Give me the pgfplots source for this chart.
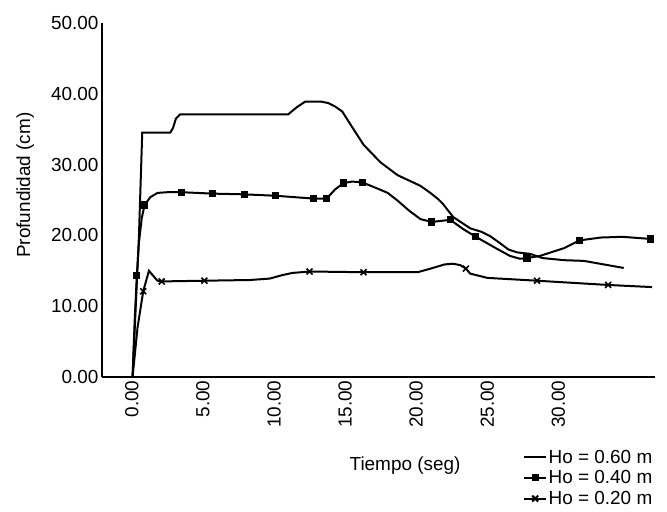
\documentclass[border=0pt]{standalone}
\usepackage{fontspec}
\setmainfont{Liberation Sans}
\usepackage{pgfplots}
\pgfplotsset{compat=1.18}

\begin{document}
\begin{tikzpicture}
\useasboundingbox (-102bp,-135bp) rectangle (565bp,377bp);
\begin{axis}[
  scale only axis, width=553bp, height=354bp,
  xmin=-2.1, xmax=36.8, ymin=0, ymax=50,
  axis x line*=bottom, axis y line*=left,
  axis line style={-, line width=1.8bp},
  xtick={0,5,...,30}, ytick={0,10,...,50},
  major tick length=0pt,
  tick label style={font=\fontsize{19}{22}\selectfont},
  x tick label style={rotate=90, anchor=east},
  /pgf/number format/.cd, fixed, fixed zerofill, precision=2, assume math mode=true,
  /pgfplots/.cd,
  xlabel={Tiempo (seg)}, ylabel={Profundidad (cm)},
  label style={font=\fontsize{19}{22}\selectfont},
  xlabel style={at={(axis description cs:0.548,-0.249)}, anchor=center},
  ylabel style={at={(axis description cs:-0.139,0.542)}, anchor=center},
  legend style={at={(axis description cs:1.0,-0.198)}, anchor=north east,
    draw=none, fill=none, font=\fontsize{19}{22}\selectfont,
    nodes={inner sep=1.5bp}, row sep=3bp, inner sep=1bp},
  legend cell align=left,
  legend image code/.code={\draw[mark repeat=2,mark phase=2,#1] plot coordinates {(0bp,0bp) (11bp,0bp) (22bp,0bp)};},
  every axis plot/.append style={black, line width=2bp},
]
% Ho = 0.60 m
\addplot[no marks, forget plot] coordinates {
(0.05,0) (0.5,20) (0.73,34.5) (2.7,34.5) (2.9,35.2) (3.1,36.5) (3.4,37.1)
(11.0,37.1) (11.6,38.1) (12.2,38.9) (13.3,38.9) (13.8,38.7) (14.3,38.2)
(14.8,37.5) (15.4,35.6) (16.3,32.8) (17.5,30.3) (18.7,28.5) (20.3,27.0)
(21.0,26.0) (21.5,25.2) (21.9,24.4) (22.6,22.6) (23.8,21.0) (24.6,20.5)
(25.2,19.9) (25.9,18.9) (26.5,18.0) (27.1,17.6) (28.0,17.4) (28.9,16.8)
(30.4,16.5) (31.8,16.4) (33.2,15.9) (34.6,15.4)
};
% Ho = 0.40 m
\addplot[no marks, forget plot] coordinates {
(0.05,0) (0.2,8) (0.35,14.3) (0.5,19) (0.7,22.5) (0.9,24.3) (1.3,25.4)
(1.8,26.0) (2.5,26.1) (3.5,26.1) (5.7,25.9) (7.9,25.8) (10.1,25.6)
(12.8,25.2) (13.7,25.2) (14.3,26.5) (14.9,27.4) (15.5,27.6) (16.2,27.5)
(17.3,26.6) (18.0,26.0) (18.7,24.9) (19.5,23.5) (20.3,22.3) (21.1,21.9)
(22.4,22.2) (23.3,20.9) (24.2,19.8) (25.6,18.2) (26.6,17.1) (27.3,16.7)
(27.8,16.8) (28.7,17.1) (30.4,18.2) (31.5,19.3) (33.0,19.7) (34.5,19.8)
(36.5,19.5)
};
\addplot[only marks, mark=square*, mark size=2.6bp, forget plot] coordinates {
(0.35,14.3) (0.9,24.3) (3.5,26.1) (5.7,25.9) (7.9,25.8) (10.1,25.6)
(12.8,25.2) (13.7,25.2) (14.9,27.4) (16.2,27.5) (21.1,21.9) (22.4,22.2)
(24.2,19.8) (27.8,16.8) (31.5,19.3) (36.5,19.5)
};
% Ho = 0.20 m
\addplot[no marks, forget plot] coordinates {
(0.05,0) (0.4,7) (0.8,12.1) (1.2,15.0) (1.8,13.6) (2.1,13.5) (5.1,13.6)
(8.3,13.7) (9.7,13.9) (10.6,14.4) (11.3,14.7) (12.5,14.9) (16.3,14.8)
(20.1,14.8) (21.0,15.3) (22.0,15.9) (22.6,16.0) (23.1,15.8) (23.5,15.3)
(23.8,14.6) (25.0,14.0) (28.5,13.6) (33.5,13.0) (36.6,12.7)
};
\addplot[only marks, mark=x, mark size=4.2bp, line width=1.6bp, forget plot] coordinates {
(0.8,12.1) (2.1,13.5) (5.1,13.6) (12.5,14.9) (16.3,14.8) (23.5,15.3)
(28.5,13.6) (33.5,13.0)
};
\addlegendimage{black, line width=2bp, no marks}
\addlegendentry{Ho = 0.60 m}
\addlegendimage{black, line width=2bp, mark=square*, mark size=2.6bp}
\addlegendentry{Ho = 0.40 m}
\addlegendimage{black, line width=2bp, mark=x, mark size=4.2bp}
\addlegendentry{Ho = 0.20 m}
\end{axis}
\end{tikzpicture}
\end{document}
